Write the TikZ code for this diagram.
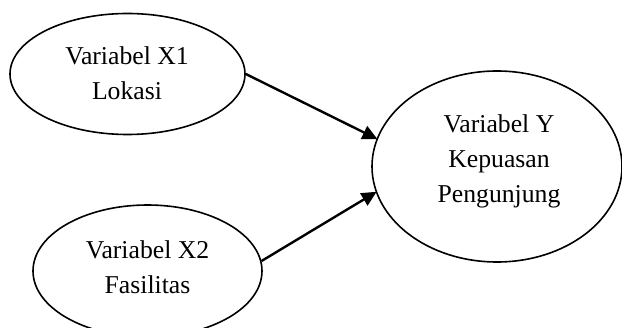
\documentclass[tikz,border=0pt]{standalone}
\usepackage{fontspec}
\setmainfont{Liberation Serif}
\usetikzlibrary{arrows.meta,shapes.geometric}
\tikzset{
  varell/.style={draw=black, line width=1.6pt, ellipse, inner sep=0pt},
  vartext/.style={align=center, inner sep=0pt, font=\fontsize{25.7}{35}\selectfont},
  conn/.style={line width=2.4pt, -{Triangle[length=15pt,width=14pt]}, shorten >=-1pt}
}
\begin{document}
\begin{tikzpicture}[x=1pt,y=-1pt]
\clip (0,0) rectangle (622,328);
\useasboundingbox (0,0) rectangle (622,328);
\node[varell, minimum width=235pt, minimum height=121pt] (x1) at (127.5,74) {};
\node[varell, minimum width=229pt, minimum height=132pt] (x2) at (147.5,271) {};
\node[varell, minimum width=250pt, minimum height=191pt] (y) at (497,166.5) {};
\node[vartext] (t1) at (127,73) {Variabel X1\\Lokasi};
\node[vartext] (t2) at (147.5,267.5) {Variabel X2\\Fasilitas};
\node[vartext] (ty) at (499,161) {Variabel Y\\Kepuasan\\Pengunjung};
\draw[conn] (x1.east) -- (y.167.5);
\draw[conn] (x2.5) -- (y.192.5);
\end{tikzpicture}
\end{document}
